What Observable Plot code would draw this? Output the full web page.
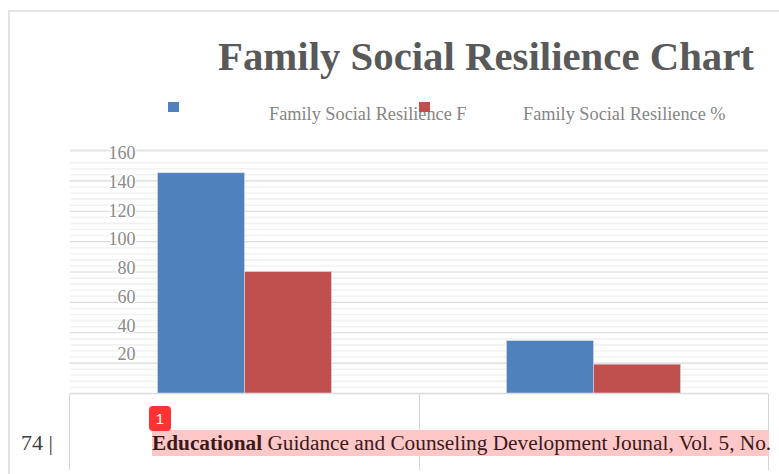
<!DOCTYPE html>
<html>
<head>
<meta charset="utf-8">
<script src="https://cdn.jsdelivr.net/npm/d3@7"></script>
<script src="https://cdn.jsdelivr.net/npm/@observablehq/plot@0.6"></script>
<style>
html,body{margin:0;padding:0;background:#fff;overflow:hidden}
#page{position:relative;width:779px;height:474px;font-family:"Liberation Serif",serif;overflow:hidden}
#page>div{position:absolute;white-space:nowrap}
#plot{left:0;top:0;width:779px;height:474px}
.line{background:#d4d4d4}
.swatch{width:11px;height:10px;top:102px}
.legend{top:102px;font-size:18.3px;line-height:24px;color:#858585}
</style>
</head>
<body>
<div id="page">
  <div class="line" style="left:8px;top:10px;width:2px;height:464px;background:#e4e4e4"></div>
  <div class="line" style="left:8px;top:10px;width:771px;height:2px;background:#e4e4e4"></div>
  <div id="plot"></div>
  <div class="line" style="left:69px;top:394px;width:1px;height:76px"></div>
  <div class="line" style="left:419px;top:394px;width:1px;height:76px"></div>
  <div class="line" style="left:768px;top:394px;width:1px;height:76px"></div>
  <div id="title" style="left:218px;top:33px;font-size:40.8px;line-height:48px;font-weight:700;color:#595959">Family Social Resilience Chart</div>
  <div class="swatch" style="left:168px;background:#4f81bd"></div>
  <div class="legend" style="left:269px">Family Social Resilience F</div>
  <div class="legend" style="left:523px">Family Social Resilience %</div>
  <div class="swatch" style="left:419px;background:#c0504d"></div>
  <div style="left:21px;top:429px;font-size:22px;line-height:28px;color:#404040">74 |</div>
  <div style="left:152px;top:430px;width:617px;height:26px;background:#ffc8c8"></div>
  <div style="left:152px;top:431px;font-size:21.3px;line-height:25px;color:#3a1a1a"><b>Educational</b> Guidance and Counseling Development Jounal, Vol. 5, No.</div>
  <div style="left:149px;top:406px;width:22px;height:25px;border-radius:4px;background:#ff3333;color:#fff;font:15px/25px 'Liberation Sans',sans-serif;text-align:center">1</div>
</div>
<script>
const groups = ["Group 1", "Group 2"];
const seriesNames = ["Family Social Resilience F", "Family Social Resilience %"];
const seriesF = [145, 34.5];
const seriesPct = [80, 19];
const colors = ["#4f81bd", "#c0504d"];
const majorTicks = [20, 40, 60, 80, 100, 120, 140, 160];
const minorTicks = [4,8,12,16,24,28,32,36,44,48,52,56,64,68,72,76,84,88,92,96,104,108,112,116,124,128,132,136,144,148,152];

const bars = groups.flatMap((g, i) => [
  {group: g, series: seriesNames[0], value: seriesF[i]},
  {group: g, series: seriesNames[1], value: seriesPct[i]}
]);
// The axis labels in the source sit on a slightly compressed scale relative to the gridlines.
const labelScale = d3.scaleLinear([20, 160], [25.7, 158]);

const chart = Plot.plot({
  width: 779, height: 474,
  marginTop: 150, marginBottom: 81, marginLeft: 69.5, marginRight: 11.5,
  style: {background: "transparent", fontFamily: "Liberation Serif, serif"},
  fx: {domain: groups, padding: 0, axis: null},
  x: {domain: seriesNames, paddingInner: 0, paddingOuter: 1, axis: null},
  y: {domain: [0, 160], axis: null},
  color: {domain: seriesNames, range: colors},
  marks: [
    Plot.ruleY(minorTicks, {stroke: "#f2f2f2", strokeWidth: 1.6}),
    Plot.ruleY(majorTicks.slice(0, -1), {stroke: "#d9d9d9", strokeWidth: 1.2}),
    Plot.ruleY([160], {stroke: "#e4e4e4", strokeWidth: 2}),
    Plot.ruleY([0], {stroke: "#dcdcdc", strokeWidth: 1.5}),
    Plot.barY(bars, {fx: "group", x: "series", y: "value", fill: "series", stroke: "#d5dbe6", strokeWidth: 0.6, inset: 0}),
    Plot.text(majorTicks, {
      fx: () => groups[0],
      y: d => labelScale(d),
      text: d => String(d),
      frameAnchor: "left", textAnchor: "end", dx: 65,
      fontSize: 18, fill: "#8a8a8a", stroke: "white", strokeWidth: 3
    })
  ]
});
document.getElementById("plot").append(chart);
</script>
</body>
</html>
